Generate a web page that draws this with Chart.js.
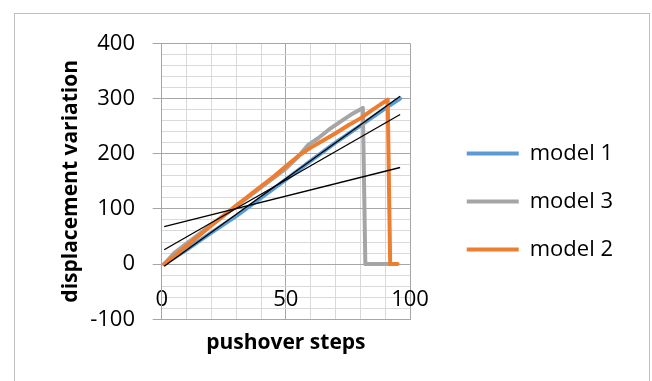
<!DOCTYPE html>
<html>
<head>
<meta charset="utf-8">
<script src="https://cdn.jsdelivr.net/npm/chart.js@4/dist/chart.umd.min.js"></script>
<style>
  html, body { margin: 0; padding: 0; background: #ffffff; }
  #wrap { width: 652px; height: 381px; }
</style>
</head>
<body>
<div id="wrap"><canvas id="chart" width="652" height="381"></canvas></div>
<script>
// Pushover displacement curves for three models, with linear trend lines.
const model1Steps = [1, 10, 20, 30, 40, 50, 60, 70, 80, 90, 96];
const model1Disp  = [0, 26, 57, 87, 120, 153, 187, 220, 251, 282, 300];

const model3Steps = [1, 5, 10, 20, 30, 40, 50, 55, 59, 63, 68, 72, 77, 81, 82, 92];
const model3Disp  = [0, 20, 37, 71, 105, 139, 173, 195, 216, 228, 246, 258, 273, 283, 0, 0];

const model2Steps = [1, 5, 10, 20, 30, 40, 45, 50, 55, 60, 65, 70, 75, 80, 85, 91, 92, 95];
const model2Disp  = [0, 14, 33, 70, 106, 141, 158, 177, 196, 211, 224, 237, 251, 264, 280, 298, 0, 0];

const trendSteps = [1, 96];
const trendA = [-4, 304];
const trendB = [26, 271];
const trendC = [68, 175];

const xTickLabels = [0, 50, 100];
const yTickLabels = [-100, 0, 100, 200, 300, 400];

const seriesNames = ['model 1', 'model 3', 'model 2'];
const seriesColors = ['#5B9BD5', '#A5A5A5', '#ED7D31'];

const pts = (xs, ys) => xs.map((x, i) => ({ x: x, y: ys[i] }));

const MAJOR = '#a6a6a6';
const MINOR = '#d9d9d9';
const FONT = "'Open Sans', 'DejaVu Sans', sans-serif";

function seriesDataset(idx, xs, ys, order) {
  return {
    label: seriesNames[idx],
    data: pts(xs, ys),
    borderColor: seriesColors[idx],
    backgroundColor: seriesColors[idx],
    borderWidth: 4,
    borderCapStyle: 'round',
    borderJoinStyle: 'round',
    pointRadius: 0,
    showLine: true,
    tension: 0,
    order: order
  };
}

function trendDataset(ys) {
  return {
    label: '_trend',
    data: pts(trendSteps, ys),
    borderColor: '#000000',
    backgroundColor: '#000000',
    borderWidth: 1.3,
    pointRadius: 0,
    showLine: true,
    order: 0
  };
}

// Thin border around the whole chart area
const frame = {
  id: 'frame',
  beforeDraw(chart) {
    const ctx = chart.ctx;
    ctx.save();
    ctx.fillStyle = '#ffffff';
    ctx.fillRect(0, 0, chart.width, chart.height);
    ctx.strokeStyle = '#bfbfbf';
    ctx.lineWidth = 1;
    ctx.strokeRect(14.5, 13.5, 635, 400);
    ctx.restore();
  }
};

new Chart(document.getElementById('chart'), {
  type: 'scatter',
  data: {
    datasets: [
      seriesDataset(0, model1Steps, model1Disp, 3),
      seriesDataset(1, model3Steps, model3Disp, 2),
      seriesDataset(2, model2Steps, model2Disp, 1),
      trendDataset(trendA),
      trendDataset(trendB),
      trendDataset(trendC)
    ]
  },
  options: {
    responsive: false,
    animation: false,
    devicePixelRatio: 1,
    layout: { padding: { left: 0, top: 43.3, right: 29, bottom: 21.4 } },
    plugins: {
      tooltip: { enabled: false },
      legend: {
        position: 'right',
        maxWidth: 260,
        labels: {
          font: { family: FONT, size: 22 },
          color: '#000000',
          boxWidth: 52,
          boxHeight: 4,
          padding: 26,
          filter: (item) => item.text !== '_trend',
          sort: (a, b) => a.datasetIndex - b.datasetIndex,
          generateLabels: (chart) => {
            const items = Chart.defaults.plugins.legend.labels.generateLabels(chart);
            return items.map(it => Object.assign(it, { lineWidth: 0, fillStyle: it.strokeStyle }));
          }
        }
      }
    },
    scales: {
      x: {
        type: 'linear',
        position: 'bottom',
        min: 0,
        max: 100,
        afterFit: (s) => { s.height = 40.3; },
        ticks: {
          stepSize: 10,
          autoSkip: false,
          maxRotation: 0,
          mirror: true,
          padding: 6.1,
          color: '#000000',
          font: { family: FONT, size: 22 },
          callback: (v) => xTickLabels.includes(v) ? String(v) : ''
        },
        grid: {
          drawTicks: false,
          lineWidth: 1,
          color: (ctx) => (ctx.tick && ctx.tick.value % 50 === 0) ? MAJOR : MINOR
        },
        border: { display: true, color: MAJOR, width: 1 },
        title: {
          display: true,
          text: 'pushover steps',
          color: '#000000',
          font: { family: FONT, size: 21, weight: 'bold' },
          padding: { top: 17.2, bottom: 4 }
        }
      },
      y: {
        type: 'linear',
        position: 'left',
        min: -100,
        max: 400,
        afterFit: (s) => { s.width = 161.7; },
        ticks: {
          stepSize: 20,
          autoSkip: false,
          padding: 17.7,
          color: '#000000',
          font: { family: FONT, size: 22 },
          callback: (v) => yTickLabels.includes(v) ? String(v) : ''
        },
        grid: {
          tickLength: 9,
          lineWidth: 1,
          color: (ctx) => (ctx.tick && ctx.tick.value % 100 === 0) ? MAJOR : MINOR,
          tickColor: (ctx) => (ctx.tick && ctx.tick.value % 100 === 0) ? MAJOR : 'rgba(0,0,0,0)'
        },
        border: { display: true, color: MAJOR, width: 1 },
        title: {
          display: true,
          text: 'displacement variation',
          color: '#000000',
          font: { family: FONT, size: 21, weight: 'bold' },
          padding: { top: 58.4, bottom: 6.4 }
        }
      },
      gap: {
        type: 'linear',
        position: 'right',
        display: true,
        afterFit: (s) => { s.width = 30.7; },
        ticks: { display: false },
        grid: { display: false, drawTicks: false },
        border: { display: false }
      }
    }
  },
  plugins: [frame]
});
</script>
</body>
</html>
